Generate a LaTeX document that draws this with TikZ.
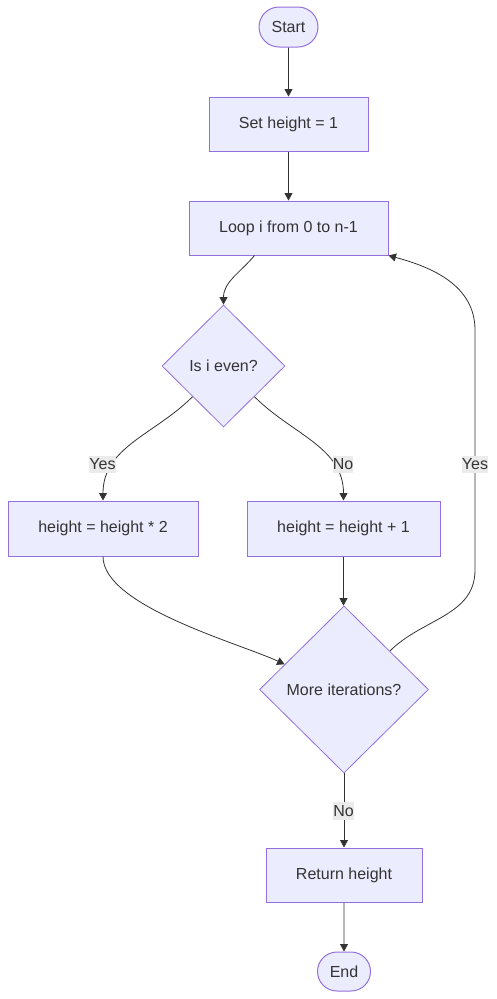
\documentclass[tikz,border=0pt]{standalone}
\usepackage{fontspec}
\setmainfont{Liberation Sans}
\usetikzlibrary{shapes.geometric,shapes.misc,arrows.meta,calc}
\definecolor{nodefill}{HTML}{ECECFF}
\definecolor{nodeline}{HTML}{9370DB}
\definecolor{edgecol}{HTML}{333333}
\definecolor{txt}{HTML}{333333}
\definecolor{lblbg}{HTML}{EBEBEB}
\begin{document}
\begin{tikzpicture}[x=1pt,y=1pt,
  font=\fontsize{16}{19}\selectfont,
  box/.style={draw=nodeline, fill=nodefill, line width=1pt, inner sep=0pt, rectangle, text=txt},
  term/.style={box, rounded rectangle},
  decision/.style={box, diamond, aspect=1, line width=0.8pt},
  arr/.style={draw=edgecol, line width=0.8pt, -{Triangle[length=7.5pt,width=8pt]}},
  lbl/.style={fill=lblbg, inner xsep=0pt, inner ysep=3pt, text=txt}]
\useasboundingbox (0,0) rectangle (496,-999);
\node[term, minimum width=59pt, minimum height=40pt] (start) at (288.5,-27) {Start};
\node[box, minimum width=159pt, minimum height=54pt] (set) at (288.5,-124) {Set height = 1};
\node[box, minimum width=199pt, minimum height=54pt] (loop) at (288.5,-228) {Loop i from 0 to n-1};
\node[decision, minimum width=123pt, minimum height=122pt] (even) at (223.5,-366) {Is i even?};
\node[box, minimum width=190pt, minimum height=55pt] (dbl) at (103,-528.5) {height = height * 2};
\node[box, minimum width=193pt, minimum height=55pt] (inc) at (343.5,-528.5) {height = height + 1};
\node[decision, minimum width=169pt, minimum height=167pt] (more) at (344,-689.5) {More iterations?};
\node[box, minimum width=156pt, minimum height=54pt] (ret) at (344,-875) {Return height};
\node[term, minimum width=53pt, minimum height=39pt] (stop) at (344,-971.5) {End};

\draw[arr] (start) -- (set);
\draw[arr] (set) -- (loop);
\draw[arr] ([xshift=-34pt]loop.south) to[out=-130,in=90] (even.north);
\draw[arr] (even.south west) to[out=-135,in=90] (dbl.north);
\draw[arr] (even.south east) to[out=-45,in=90] (inc.north);
\draw[arr] (dbl.south) to[out=-90,in=155,looseness=0.6] (more.157);
\draw[arr] (inc.south) -- (inc.south |- more.north);
\draw[arr] (more.40) to[out=45,in=-90] (475,-570) -- (475,-330) to[out=90,in=-15] (loop.south east);
\draw[arr] (more.south) -- (ret.north);
\draw[arr] (ret) -- (stop);

\node[lbl] (l1) at (102.5,-464.5) {Yes};
\node[lbl] (l2) at (343,-464.5) {No};
\node[lbl] (l3) at (475,-464.5) {Yes};
\node[lbl] (l4) at (343.5,-811) {No};
\end{tikzpicture}
\end{document}
